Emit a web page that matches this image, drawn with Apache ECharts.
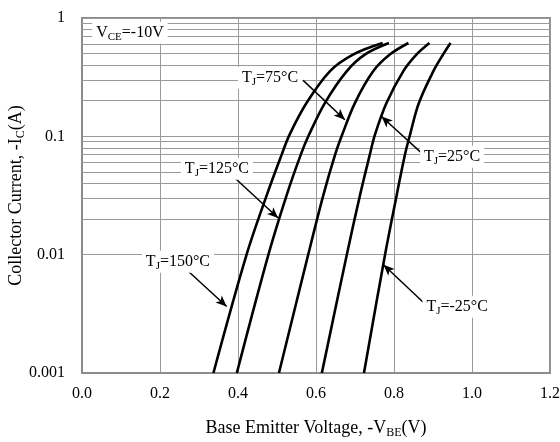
<!DOCTYPE html>
<html>
<head>
<meta charset="utf-8">
<script src="https://cdn.jsdelivr.net/npm/echarts@6/dist/echarts.min.js"></script>
<style>
  html, body { margin: 0; padding: 0; background: #fff; }
  #chart { width: 560px; height: 442px; }
</style>
</head>
<body>
<div id="chart"></div>
<script>
// collector current levels (A) at which each curve was read
const currents = [0.001, 0.01, 0.032, 0.07, 0.103, 0.192, 0.356, 0.493, 0.615]
// base-emitter voltage (V) for each junction temperature
const vbe150 = [0.337, 0.422, 0.474, 0.512, 0.532, 0.576, 0.636, 0.696, 0.771]
const vbe125 = [0.397, 0.478, 0.525, 0.561, 0.582, 0.623, 0.679, 0.726, 0.787]
const vbe75 = [0.505, 0.580, 0.619, 0.649, 0.667, 0.700, 0.747, 0.790, 0.837]
const vbe25 = [0.615, 0.679, 0.713, 0.738, 0.751, 0.781, 0.824, 0.858, 0.891]
const vbeM25 = [0.723, 0.777, 0.807, 0.828, 0.841, 0.864, 0.901, 0.926, 0.945]

const xTickLabels = ['0.0', '0.2', '0.4', '0.6', '0.8', '1.0', '1.2']
const yTickLabels = ['0.001', '0.01', '0.1', '1']

// annotation labels: [text rich string, V, I]
const labels = [
  ['{t|V}{s|CE}{t|=-10V}', 0.123, 0.752],
  ['{t|T}{s|J}{t|=75°C}', 0.482, 0.313],
  ['{t|T}{s|J}{t|=125°C}', 0.346, 0.0532],
  ['{t|T}{s|J}{t|=25°C}', 0.949, 0.0673],
  ['{t|T}{s|J}{t|=150°C}', 0.246, 0.0087],
  ['{t|T}{s|J}{t|=-25°C}', 0.962, 0.00363],
]
// arrows: [fromV, fromI, toV, toI]
const arrows = [
  [0.567, 0.297, 0.674, 0.138],
  [0.392, 0.0444, 0.503, 0.0204],
  [0.871, 0.0722, 0.768, 0.147],
  [0.260, 0.0079, 0.371, 0.00365],
  [0.879, 0.00385, 0.773, 0.00822],
]

const font = 'Liberation Serif, Times New Roman, serif'
const gridColor = '#9a9a9a'
const frameColor = '#8c8c8c'

const minorLines = []
;[0.001, 0.01, 0.1].forEach((d) => {
  for (let k = 2; k <= 9; k++) minorLines.push({ yAxis: +(d * k).toPrecision(3) })
})

const labelRich = {
  t: { fontSize: 16, fontFamily: font, color: '#000', lineHeight: 20 },
  s: { fontSize: 11, fontFamily: font, color: '#000', verticalAlign: 'bottom', lineHeight: 10 },
}
const titleRich = {
  t: { fontSize: 18, fontFamily: font, color: '#000', lineHeight: 22 },
  s: { fontSize: 12, fontFamily: font, color: '#000', verticalAlign: 'bottom', lineHeight: 11 },
}

const curves = [vbe150, vbe125, vbe75, vbe25, vbeM25]

const series = curves.map((v) => ({
  type: 'line',
  data: v.map((x, i) => [x, currents[i]]),
  smooth: 0.35,
  symbol: 'none',
  lineStyle: { color: '#000', width: 2.6 },
  z: 5,
}))

series.push({
  type: 'line',
  data: [],
  silent: true,
  markLine: {
    silent: true,
    symbol: 'none',
    label: { show: false },
    lineStyle: { color: gridColor, width: 1, type: 'solid' },
    data: minorLines,
    z: 1,
  },
})

series.push({
  type: 'line',
  data: [],
  silent: true,
  z: 10,
  markLine: {
    silent: true,
    symbol: ['none', 'arrow'],
    symbolSize: [7, 11],
    label: { show: false },
    lineStyle: { color: '#000', width: 1.5, type: 'solid' },
    data: arrows.map((a) => [{ coord: [a[0], a[1]] }, { coord: [a[2], a[3]] }]),
    z: 10,
  },
  markPoint: {
    silent: true,
    symbol: 'circle',
    symbolSize: 1,
    itemStyle: { color: 'rgba(0,0,0,0)' },
    label: {
      show: true,
      position: 'inside',
      backgroundColor: '#fff',
      padding: [1, 4, 1, 4],
      rich: labelRich,
    },
    data: labels.map((l) => ({ coord: [l[1], l[2]], label: { formatter: l[0] } })),
    z: 12,
  },
})

const chart = echarts.init(document.getElementById('chart'))
chart.setOption({
  animation: false,
  backgroundColor: '#fff',
  grid: {
    left: 82, right: 10, top: 18, bottom: 69,
    outerBoundsMode: 'none',
    containLabel: false,
    show: true, borderColor: frameColor, borderWidth: 2,
  },
  xAxis: {
    type: 'value',
    min: 0,
    max: 1.2,
    interval: 0.2,
    axisLine: { show: true, lineStyle: { color: frameColor, width: 2 } },
    axisTick: { show: false },
    splitLine: { show: true, lineStyle: { color: gridColor, width: 1 } },
    axisLabel: {
      margin: 13,
      fontSize: 16,
      fontFamily: font,
      color: '#000',
      formatter: (v, i) => xTickLabels[i],
    },
    name: '{t|Base Emitter Voltage, -V}{s|BE}{t|(V)}',
    nameLocation: 'middle',
    nameGap: 44,
    nameMoveOverlap: false,
    nameTextStyle: { rich: titleRich },
  },
  yAxis: {
    type: 'log',
    logBase: 10,
    min: 0.001,
    max: 1,
    axisLine: { show: true, lineStyle: { color: frameColor, width: 2 } },
    axisTick: { show: false },
    splitLine: { show: true, lineStyle: { color: gridColor, width: 1 } },
    axisLabel: {
      margin: 17,
      fontSize: 16,
      fontFamily: font,
      color: '#000',
      formatter: (v, i) => yTickLabels[i],
    },
    name: '{t|Collector Current, -I}{s|C}{t|(A)}',
    nameLocation: 'middle',
    nameGap: 55,
    nameMoveOverlap: false,
    nameTextStyle: { rich: titleRich },
  },
  series,
})
</script>
</body>
</html>
